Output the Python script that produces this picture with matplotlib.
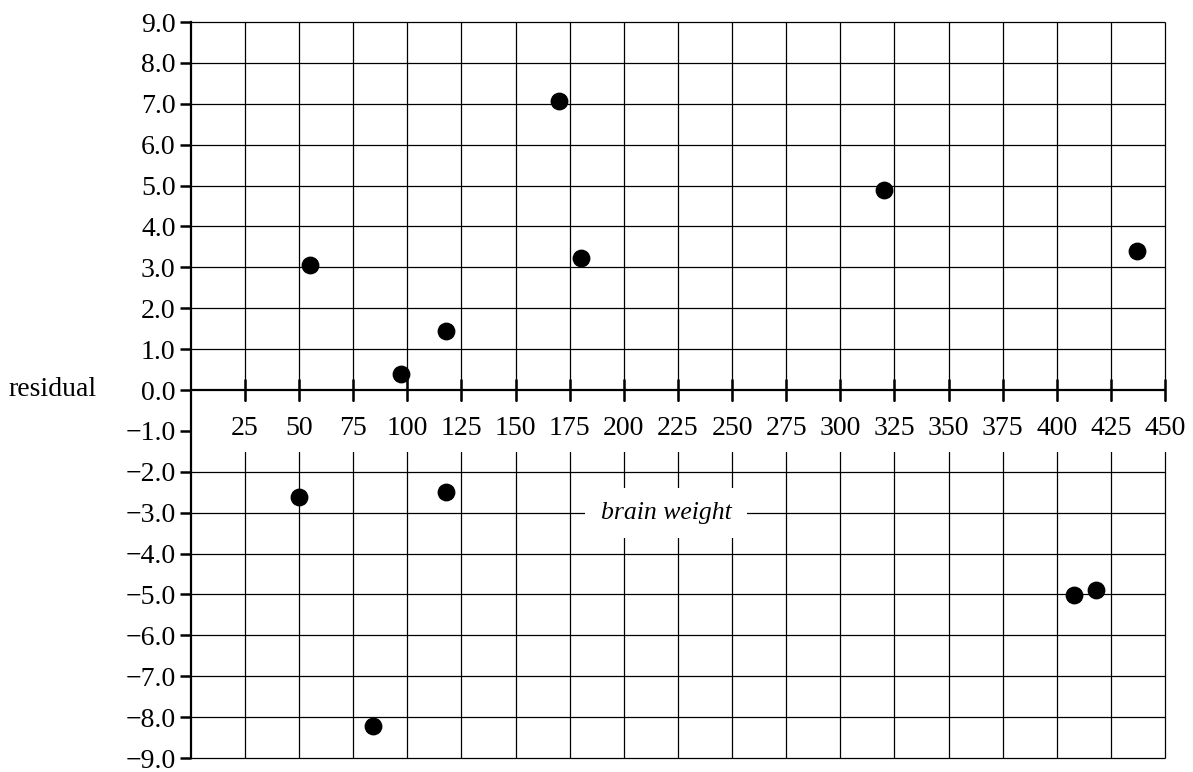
import matplotlib
matplotlib.use("Agg")
import matplotlib.pyplot as plt
import numpy as np

# residuals
brain_weight = [55, 97, 118, 170, 180, 320, 437, 50, 84, 118, 408, 418]
residual = [3.05, 0.4, 1.45, 7.07, 3.22, 4.88, 3.4, -2.62, -8.22, -2.5, -5.02, -4.9]

x_ticks = list(range(25, 451, 25))
y_ticks = [float(v) for v in range(-9, 10)]

plt.rcParams['font.family'] = ['Liberation Serif', 'DejaVu Serif']
fs = 20

fig = plt.figure(figsize=(11.93, 7.72), dpi=100)
ax = fig.add_axes([0.160, 0.0181, 0.9765 - 0.160, 0.9715 - 0.0181])
ax.set_xlim(0, 450)
ax.set_ylim(-9, 9)

for s in ['top', 'right', 'bottom']:
    ax.spines[s].set_visible(False)
ax.spines['left'].set_linewidth(1.6)
ax.spines['left'].set_zorder(5)

# grid
ax.vlines(x_ticks, -9, 9, color='black', lw=0.9, zorder=1, clip_on=False)
ax.hlines([v for v in y_ticks if v != 0], 0, 450, color='black', lw=0.9,
          zorder=1, clip_on=False)

# white bands behind labels
ax.fill_between([0.5, 452], -1.52, -0.29, color='white', zorder=2, lw=0,
                clip_on=False)
ax.fill_between([182, 257], -3.62, -2.40, color='white', zorder=2, lw=0)

# x axis at residual = 0
ax.hlines(0, 0, 450, color='black', lw=1.6, zorder=3, clip_on=False)
ax.vlines(x_ticks, -0.27, 0.27, color='black', lw=1.8, zorder=3, clip_on=False)
for xv in x_ticks:
    ax.text(xv, -0.95, str(xv), ha='center', va='center', fontsize=fs, zorder=4)
ax.text(219.5, -3.0, 'brain weight', ha='center', va='center', fontsize=18.5,
        style='italic', zorder=4)

ax.set_xticks([])
ax.set_yticks(y_ticks)
ax.set_yticklabels([f"{v:.1f}".replace('-', '\u2212') for v in y_ticks], fontsize=fs)
ax.tick_params(axis='y', direction='out', length=8, width=1.8, pad=3)

ax.scatter(brain_weight, residual, s=140, color='black', zorder=6, clip_on=False)

fig.text(0.007, 0.495, 'residual', ha='left', va='center', fontsize=fs)

fig.savefig('out.png', dpi=100)
